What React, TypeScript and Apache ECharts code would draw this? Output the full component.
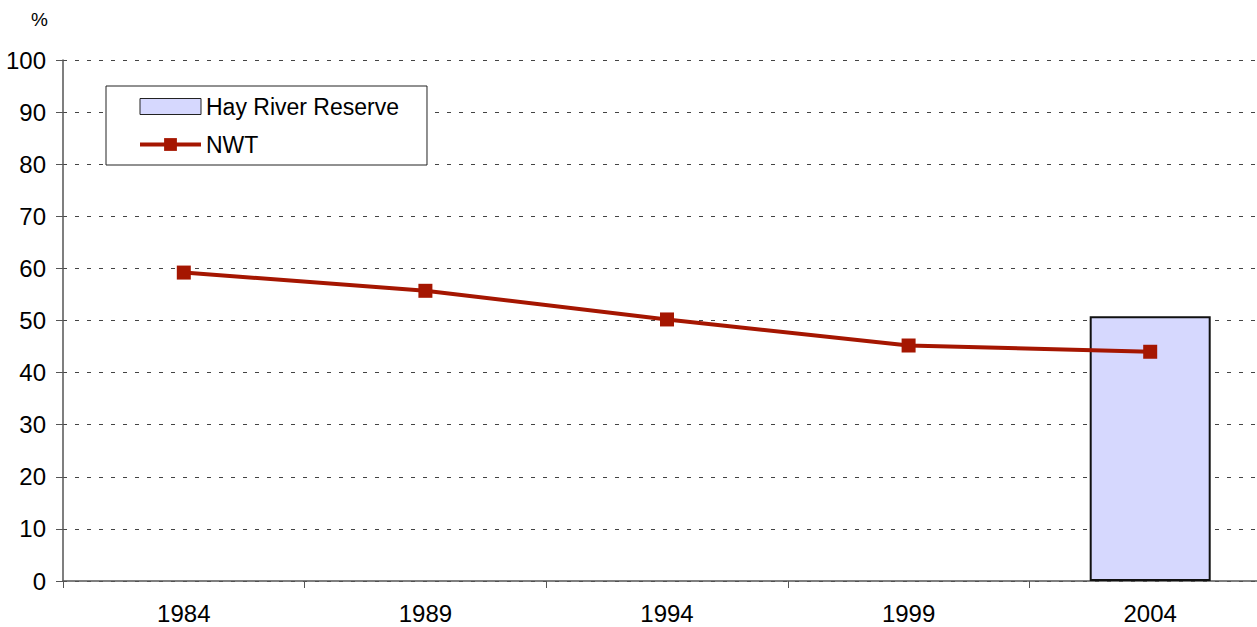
import React, { useEffect, useRef } from "react";
import * as echarts from "echarts";

const years = ["1984", "1989", "1994", "1999", "2004"];
const nwt = [59.2, 55.7, 50.2, 45.2, 44.0];
const hayRiver: (number | string)[] = ["-", "-", "-", "-", 50.8];
const yTicks = { min: 0, max: 100, interval: 10 };

const FONT = "'Liberation Sans', Arial, sans-serif";
const RED = "#A51601";

export default function App() {
  const ref = useRef<HTMLDivElement>(null);
  useEffect(() => {
    document.body.style.margin = "0";
    const chart = echarts.init(ref.current!, undefined, { renderer: "svg" });
    chart.setOption({
      animation: false,
      textStyle: { fontFamily: FONT },
      grid: { left: 63, top: 60, bottom: 46, right: 0 },
      legend: {
        orient: "vertical",
        left: 106,
        top: 86,
        backgroundColor: "#fff",
        borderColor: "#222",
        borderWidth: 1,
        borderRadius: 0,
        padding: [9, 28, 9, 32],
        itemGap: 15,
        itemWidth: 61,
        itemHeight: 16,
        textStyle: { fontSize: 23, color: "#000", fontFamily: FONT },
        data: [
          {
            name: "Hay River Reserve",
            icon: "rect",
            itemStyle: { color: "#D6D8FE", borderColor: "#222", borderWidth: 1 },
          },
          {
            name: "NWT",
            itemStyle: { color: RED },
            lineStyle: { color: RED, width: 4 },
          },
        ],
      },
      graphic: [
        {
          type: "text",
          left: 31,
          top: 10,
          style: { text: "%", fontSize: 19, fill: "#000", fontFamily: FONT },
        },
      ],
      xAxis: {
        type: "category",
        data: years,
        boundaryGap: true,
        axisLine: { lineStyle: { color: "#555", width: 1.5 } },
        axisTick: { show: true, length: 7, lineStyle: { color: "#555" } },
        axisLabel: { fontSize: 24, color: "#000", margin: 20, fontFamily: FONT },
        splitLine: { show: false },
      },
      yAxis: {
        type: "value",
        min: yTicks.min,
        max: yTicks.max,
        interval: yTicks.interval,
        axisLine: { show: true, lineStyle: { color: "#555", width: 1.5 } },
        axisTick: { show: true, length: 7, lineStyle: { color: "#555" } },
        axisLabel: { fontSize: 24, color: "#000", margin: 17, fontFamily: FONT },
        splitLine: {
          show: true,
          lineStyle: { color: "#444", type: [4, 8], width: 1.2 },
        },
      },
      series: [
        {
          name: "Hay River Reserve",
          type: "bar",
          data: hayRiver,
          barWidth: 121,
          itemStyle: { color: "#D6D8FE", borderColor: "#111", borderWidth: 2 },
          z: 2,
        },
        {
          name: "NWT",
          type: "line",
          data: nwt,
          symbol: "rect",
          symbolSize: 14,
          lineStyle: { color: RED, width: 4 },
          itemStyle: { color: RED },
          z: 3,
        },
      ],
    });
    return () => chart.dispose();
  }, []);
  return (
    <div style={{ width: 1257, height: 627, overflow: "hidden", position: "relative" }}>
      <div ref={ref} style={{ width: 1271, height: 627 }} />
    </div>
  );
}
